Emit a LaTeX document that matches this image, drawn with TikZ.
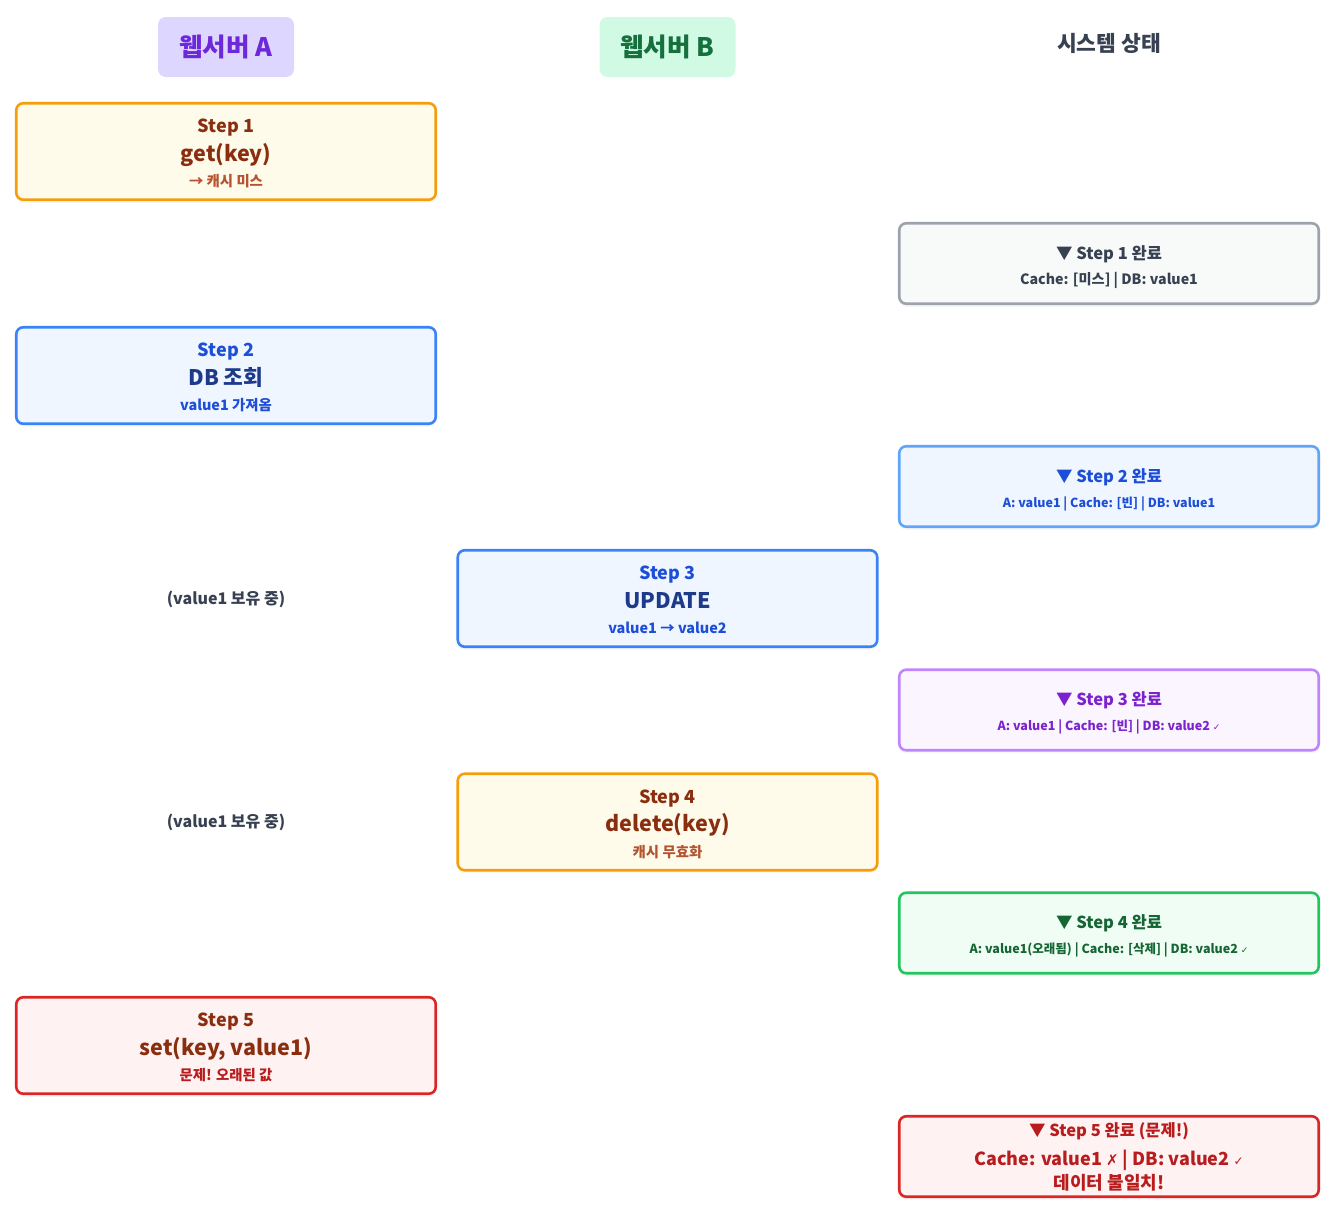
\documentclass[tikz,border=0pt]{standalone}
\usepackage{fontspec}
\setmainfont{Noto Sans CJK KR}
\newfontfamily\symf{DejaVu Sans}
\usetikzlibrary{shadows}
\definecolor{orB}{HTML}{F59E0B}\definecolor{orF}{HTML}{FFFBEB}
\definecolor{brT}{HTML}{8A2E0F}\definecolor{brS}{HTML}{B45331}
\definecolor{blB}{HTML}{3B82F6}\definecolor{blF}{HTML}{EFF6FF}
\definecolor{blT}{HTML}{1D4ED8}\definecolor{blM}{HTML}{1E3A8A}
\definecolor{rdB}{HTML}{DC2626}\definecolor{rdF}{HTML}{FEF2F2}\definecolor{rdT}{HTML}{B91C1C}
\definecolor{gyB}{HTML}{9CA3AF}\definecolor{gyF}{HTML}{F8FAFA}\definecolor{gyT}{HTML}{374151}
\definecolor{lbB}{HTML}{60A5FA}
\definecolor{puB}{HTML}{C084FC}\definecolor{puF}{HTML}{FAF5FF}\definecolor{puT}{HTML}{7E22CE}
\definecolor{gnB}{HTML}{22C55E}\definecolor{gnF}{HTML}{F0FDF4}\definecolor{gnT}{HTML}{166534}
\definecolor{hAF}{HTML}{DDD6FE}\definecolor{hAT}{HTML}{6D28D9}
\definecolor{hBF}{HTML}{D1FAE5}\definecolor{hBT}{HTML}{15703D}
\tikzset{
  boxbase/.style={draw, line width=2.6pt, rounded corners=7pt, inner sep=0pt,
    minimum width=419.5pt, drop shadow={shadow xshift=0pt, shadow yshift=-3pt, opacity=0.06}},
  stepbox/.style={boxbase, minimum height=96.5pt},
  statbox/.style={boxbase, minimum height=80.5pt},
  hdrbox/.style={rounded corners=8pt, inner sep=0pt, minimum width=136pt, minimum height=60pt},
  txt/.style={anchor=base, inner sep=0pt, font=\bfseries},
}
\newcommand\fs[1]{\fontsize{#1}{#1}\selectfont}
\newcommand\chk{{\symf\fs{9}✓}}
% border, fill, step colour, main colour, sub colour
\newcommand\Theme[5]{\def\cBo{#1}\def\cFi{#2}\def\cSt{#3}\def\cMa{#4}\def\cSu{#5}}
% name, cx, cy, step, main, sub
\newcommand\StepBox[6]{%
  \node[stepbox, draw=\cBo, fill=\cFi] (#1) at (#2,#3) {};
  \node[txt, text=\cSt, font=\bfseries\fs{18}] (#1-a) at ({#2},{#3-18.9}) {#4};
  \node[txt, text=\cMa, font=\bfseries\fs{21.5}] (#1-b) at ({#2},{#3+9.5}) {#5};
  \node[txt, text=\cSu, font=\bfseries\fs{14.4}] (#1-c) at ({#2},{#3+35}) {#6};
}
% name, cy, border, fill, text, title, line
\newcommand\StatBox[7]{%
  \node[statbox, draw=#3, fill=#4] (#1) at (1109,#2) {};
  \node[txt, text=#5, font=\bfseries\fs{16.5}] (#1-a) at (1109,{#2-4.4}) {#6};
  \node[txt, text=#5, font=\bfseries\fs{12.5}] (#1-b) at (1109,{#2+20.5}) {#7};
}
\begin{document}
\begin{tikzpicture}[x=1pt,y=-1pt]
\useasboundingbox (0,0) rectangle (1332,1213);
\fill[white] (0,0) rectangle (1332,1213);
% headers
\node[hdrbox, fill=hAF] (hA) at (226,47) {};
\node[txt, text=hAT, font=\bfseries\fs{25.5}] (hAt) at (226,56.3) {웹서버 A};
\node[hdrbox, fill=hBF] (hB) at (667.5,47) {};
\node[txt, text=hBT, font=\bfseries\fs{25.5}] (hBt) at (667.5,56.3) {웹서버 B};
\node[txt, text=gyT, font=\bfseries\fs{21.5}] (hC) at (1109,51) {시스템 상태};
% web server steps
\Theme{orB}{orF}{brT}{brT}{brS}
\StepBox{s1}{226}{151.5}{Step 1}{get(key)}{→ 캐시 미스}
\StepBox{s4}{667.5}{822}{Step 4}{delete(key)}{캐시 무효화}
\Theme{blB}{blF}{blT}{blM}{blT}
\StepBox{s2}{226}{375.5}{Step 2}{DB 조회}{value1 가져옴}
\StepBox{s3}{667.5}{598.5}{Step 3}{UPDATE}{value1 → value2}
\Theme{rdB}{rdF}{brT}{brT}{rdT}
\StepBox{s5}{226}{1045.5}{Step 5}{set(key, value1)}{문제! 오래된 값}
\node[txt, text=gyT, font=\bfseries\fs{16}] (hold1) at (226,604) {(value1 보유 중)};
\node[txt, text=gyT, font=\bfseries\fs{16}] (hold2) at (226,827) {(value1 보유 중)};
% status
\StatBox{t1}{263.5}{gyB}{gyF}{gyT}{▼ Step 1 완료}{\fs{14.2}Cache: [미스] | DB: value1}
\StatBox{t2}{486.5}{lbB}{blF}{blT}{▼ Step 2 완료}{A: value1 | Cache: [빈] | DB: value1}
\StatBox{t3}{710}{puB}{puF}{puT}{▼ Step 3 완료}{A: value1 | Cache: [빈] | DB: value2 \chk}
\StatBox{t4}{933}{gnB}{gnF}{gnT}{▼ Step 4 완료}{A: value1(오래됨) | Cache: [삭제] | DB: value2 \chk}
\node[statbox, draw=rdB, fill=rdF] (t5) at (1109,1156.5) {};
\node[txt, text=rdT, font=\bfseries\fs{16.5}] (t5-a) at (1109,1136) {▼ Step 5 완료 (문제!)};
\node[txt, text=rdT, font=\bfseries\fs{18}] (t5-b) at (1109,1165.7) {Cache: value1 {\symf\fs{15}✗} | DB: value2 {\symf\fs{12}✓}};
\node[txt, text=rdT, font=\bfseries\fs{18}] (t5-c) at (1109,1189.7) {데이터 불일치!};
\end{tikzpicture}
\end{document}
